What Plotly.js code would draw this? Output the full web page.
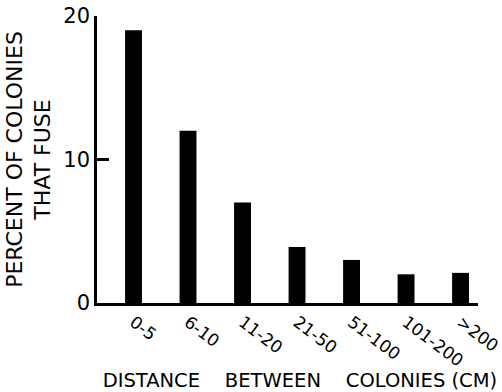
<!DOCTYPE html>
<html>
<head>
<meta charset="utf-8">
<script src="https://cdn.plot.ly/plotly-3.0.1.min.js"></script>
<style>html,body{margin:0;padding:0;background:#fff;}#chart{width:502px;height:392px;}</style>
</head>
<body>
<div id="chart"></div>
<script>
var categories = ["0-5", "6-10", "11-20", "21-50", "51-100", "101-200", ">200"];
var percentFuse = [19, 12, 7, 3.9, 3, 2, 2.1];
var yTickVals = [0, 10, 20];
var yTickText = ["0", "10", "20"];

var font = "DejaVu Sans, Verdana, sans-serif";

var trace = {
  type: "bar",
  x: categories,
  y: percentFuse,
  marker: {color: "#000", line: {width: 0}},
  hoverinfo: "none"
};

var layout = {
  width: 502,
  height: 392,
  margin: {l: 97, r: 24, t: 16, b: 89},
  paper_bgcolor: "#fff",
  plot_bgcolor: "#fff",
  bargap: 0.69,
  showlegend: false,
  font: {family: font, color: "#000"},
  xaxis: {
    type: "category",
    range: [-0.67, 6.32],
    showline: true,
    linecolor: "#000",
    linewidth: 2.5,
    showgrid: false,
    zeroline: false,
    ticks: "",
    tickangle: 37,
    tickfont: {family: font, size: 17, color: "#000"},
    title: {
      text: "&nbsp;&nbsp;&nbsp;&nbsp;DISTANCE&nbsp;&nbsp;&nbsp;&nbsp;BETWEEN&nbsp;&nbsp;&nbsp;&nbsp;COLONIES (CM)",
      font: {family: font, size: 19.5, color: "#000"},
      standoff: 8
    },
    automargin: false
  },
  yaxis: {
    range: [0, 20],
    showline: true,
    linecolor: "#000",
    linewidth: 2.5,
    showgrid: false,
    zeroline: false,
    ticks: "inside",
    ticklen: 12,
    tickwidth: 2.5,
    tickcolor: "#000000",
    tickmode: "array",
    tickvals: yTickVals,
    ticktext: yTickText,
    tickfont: {family: font, size: 21, color: "#000"},
    title: {
      text: "PERCENT OF COLONIES<br>THAT FUSE",
      font: {family: font, size: 22, color: "#000"},
      standoff: 7
    },
    automargin: false
  }
};

Plotly.newPlot("chart", [trace], layout, {displayModeBar: false});
</script>
</body>
</html>
